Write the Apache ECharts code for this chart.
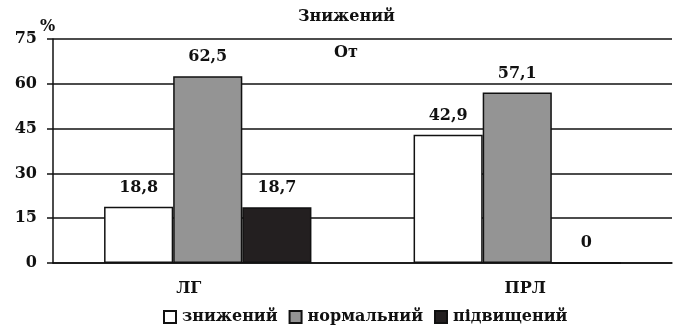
<!DOCTYPE html>
<html>
<head>
<meta charset="utf-8">
<script src="https://cdn.jsdelivr.net/npm/echarts@6/dist/echarts.min.js"></script>
<style>
  html, body { margin: 0; padding: 0; background: #fff; }
  #chart { width: 679px; height: 325px; }
</style>
</head>
<body>
<div id="chart"></div>
<script>
// Groups and level shares (%)
const categories = ['ЛГ', 'ПРЛ'];
const seriesNames = ['знижений', 'нормальний', 'підвищений'];
const lowered = [18.8, 42.9];
const normal = [62.5, 57.1];
const raised = [18.7, 0];
const yTicks = [0, 15, 30, 45, 60, 75];

const FONT = '"DejaVu Serif", "Liberation Serif", serif';
const textStyle = { fontFamily: FONT, fontWeight: 'bold', fontSize: 16, color: '#111' };

const fmt = p => String(p.value).replace('.', ',');

function barSeries(name, data, color) {
  return {
    name: name,
    type: 'bar',
    data: data,
    barGap: '0%',
    barCategoryGap: '33%',
    itemStyle: { color: color, borderColor: '#111', borderWidth: 1.5 },
    label: {
      show: true,
      position: 'top',
      distance: 11,
      formatter: fmt,
      ...textStyle
    }
  };
}

const chart = echarts.init(document.getElementById('chart'));
chart.setOption({
  animation: false,
  textStyle: textStyle,
  grid: { left: 53, right: 7, top: 39, bottom: 62 },
  graphic: [
    { type: 'text', left: 298, top: 9, style: { text: 'Знижений', font: 'bold 16px ' + FONT, fill: '#111' } },
    { type: 'text', left: 334, top: 45, style: { text: 'От', font: 'bold 16px ' + FONT, fill: '#111' } },
    { type: 'text', left: 40, top: 19, style: { text: '%', font: 'bold 16px ' + FONT, fill: '#111' } }
  ],
  legend: {
    top: 304,
    left: 158,
    itemWidth: 12,
    itemHeight: 12,
    itemGap: 11,
    icon: 'rect',
    data: seriesNames,
    textStyle: { ...textStyle, padding: [0, 0, 0, 1] }
  },
  xAxis: {
    type: 'category',
    data: categories,
    axisLine: { lineStyle: { color: '#111', width: 1.5 } },
    axisTick: { show: false },
    axisLabel: {
      ...textStyle,
      margin: 18,
      // group names sit slightly off the group centres
      formatter: (v, i) => (i === 0 ? '{l|' + v + '}' : '{r|' + v + '}'),
      rich: {
        l: { ...textStyle, padding: [0, 38, 0, 0] },
        r: { ...textStyle, padding: [0, 0, 0, 16] }
      }
    }
  },
  yAxis: {
    type: 'value',
    min: yTicks[0],
    max: yTicks[yTicks.length - 1],
    interval: 15,
    axisLine: { show: true, lineStyle: { color: '#111', width: 1.5 } },
    axisTick: { show: true, length: 6, lineStyle: { color: '#111', width: 1.5 } },
    splitLine: { lineStyle: { color: '#111', width: 1.5 } },
    axisLabel: { ...textStyle, margin: 16 }
  },
  series: [
    barSeries(seriesNames[0], lowered, '#ffffff'),
    barSeries(seriesNames[1], normal, '#949494'),
    barSeries(seriesNames[2], raised, '#231f20')
  ]
});
</script>
</body>
</html>
